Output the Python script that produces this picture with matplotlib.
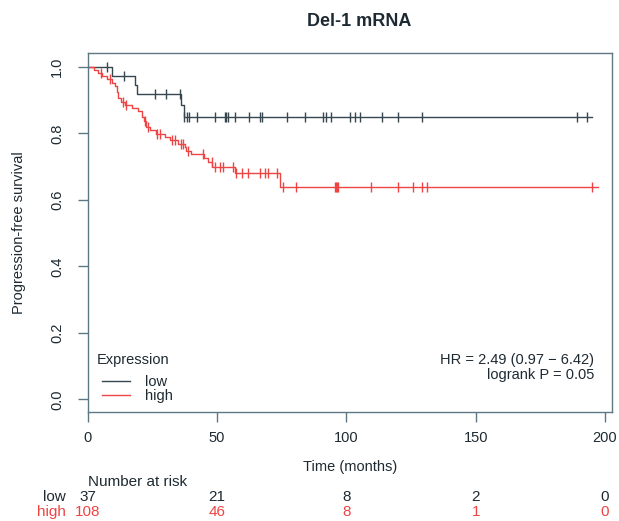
import numpy as np
import matplotlib
matplotlib.use("Agg")
import matplotlib.pyplot as plt
from matplotlib.lines import Line2D
from matplotlib.transforms import blended_transform_factory

plt.rcParams['font.family'] = ['Liberation Sans', 'DejaVu Sans']

# ---------------- data ----------------
title = "Del-1 mRNA"
group_names = ["low", "high"]

low_times = [0, 9.3, 18.2, 19.2, 36.2, 37.1]
low_surv = [1.0, 0.973, 0.946, 0.919, 0.886, 0.850]
low_end = 194.8
low_censor = [7.6, 14.1, 25.9, 30.4, 35.6, 37.3, 38.4, 39.2, 42.3, 49.1, 53.0, 53.6,
              54.3, 56.9, 62.3, 66.5, 67.4, 76.9, 83.9, 90.8, 92.3, 93.9, 101.4,
              103.3, 105.2, 113.6, 120.0, 129.1, 189.0, 192.9]

high_times = [0, 2.5, 4.0, 5.5, 7.5, 9.5, 10.5, 11.2, 11.8, 12.8, 14.5, 17.0, 19.5,
              21.0, 21.8, 22.5, 24.0, 26.5, 30.0, 32.0, 35.0, 37.5, 38.0, 40.0,
              45.0, 46.5, 48.2, 56.9, 74.3]
high_surv = [1.0, 0.991, 0.981, 0.972, 0.963, 0.953, 0.944, 0.925, 0.906, 0.896,
             0.887, 0.877, 0.867, 0.848, 0.838, 0.819, 0.809, 0.799, 0.789, 0.779,
             0.769, 0.758, 0.748, 0.738, 0.726, 0.713, 0.699, 0.680, 0.638]
high_end = 197.4
high_censor = [5.3, 8.5, 13.7, 15.0, 22.0, 23.2, 26.6, 27.9, 32.6, 33.9, 36.2, 36.9,
               38.8, 44.5, 47.9, 49.1, 51.1, 52.4, 56.2, 57.5, 59.5, 62.0, 66.5,
               68.5, 69.7, 73.0, 75.6, 80.6, 95.5, 96.0, 96.4, 96.8, 109.7, 120.0,
               125.8, 129.1, 131.3, 194.8]

risk_times = [0, 50, 100, 150, 200]
risk_low = [37, 21, 8, 2, 0]
risk_high = [108, 46, 8, 1, 0]

hr_text = "HR = 2.49 (0.97 \u2212 6.42)"
p_text = "logrank P = 0.05"

# ---------------- style ----------------
W, H = 619, 521
DPI = 100
col_low = "#37474f"
col_high = "#ee4444"
col_box = "#5d7884"
col_text = "#1e2a32"
fs = 10.5

fig = plt.figure(figsize=(W / DPI, H / DPI), dpi=DPI)
fig.patch.set_facecolor("white")
ax_l, ax_r, ax_t, ax_b = 87.7, 612, 53, 412
ax = fig.add_axes([ax_l / W, 1 - ax_b / H, (ax_r - ax_l) / W, (ax_b - ax_t) / H])


def surv_at(times, surv, t):
    idx = np.searchsorted(np.asarray(times), np.asarray(t), side="right") - 1
    return np.asarray(surv)[idx]


for times, surv, end, cens, col in [
    (low_times, low_surv, low_end, low_censor, col_low),
    (high_times, high_surv, high_end, high_censor, col_high),
]:
    xs = list(times) + [end]
    ys = list(surv) + [surv[-1]]
    ax.step(xs, ys, where="post", color=col, lw=1.0)
    ax.plot(cens, surv_at(times, surv, cens), linestyle="none", marker="|",
            markersize=7, markeredgewidth=1.0, color=col)

ax.set_xlim(0, 202.7)
ax.set_ylim(-0.038, 1.042)
ax.set_xticks(risk_times)
ax.set_yticks([0.0, 0.2, 0.4, 0.6, 0.8, 1.0])
ax.set_yticklabels(["0.0", "0.2", "0.4", "0.6", "0.8", "1.0"], rotation=90,
                   va="center")
ax.tick_params(axis="both", direction="out", length=7, width=1.0,
               color=col_box, labelcolor=col_text, labelsize=fs)
ax.tick_params(axis="y", pad=10)
ax.tick_params(axis="x", pad=7)
for sp in ax.spines.values():
    sp.set_color(col_box)
    sp.set_linewidth(1.0)

ax.set_xlabel("Time (months)", fontsize=fs, color=col_text, labelpad=10.5)
ax.set_ylabel("Progression-free survival", fontsize=fs, color=col_text, labelpad=17)
fig.text(359 / W, 1 - 22 / H, title, fontsize=13, fontweight="bold",
         color=col_text, ha="center", va="center")

# legend
ax.text(97 / W, 1 - 360 / H, "Expression", transform=fig.transFigure,
        fontsize=fs, color=col_text, ha="left", va="center")
handles = [Line2D([], [], color=col_low, lw=1.0), Line2D([], [], color=col_high, lw=1.0)]
leg = ax.legend(handles, group_names, loc="center left",
                bbox_to_anchor=(102 / W, 1 - 389 / H), bbox_transform=fig.transFigure,
                frameon=False, fontsize=fs, handlelength=1.95, handletextpad=1.0,
                borderpad=0, borderaxespad=0, labelspacing=0.05)
for t in leg.get_texts():
    t.set_color(col_text)

ax.text(0.966, 1 - (360 - ax_t) / (ax_b - ax_t), hr_text, transform=ax.transAxes,
        fontsize=fs, color=col_text, ha="right", va="center")
ax.text(0.966, 1 - (375 - ax_t) / (ax_b - ax_t), p_text, transform=ax.transAxes,
        fontsize=fs, color=col_text, ha="right", va="center")

# number at risk table
fs_t = 11
tr = blended_transform_factory(ax.transData, fig.transFigure)
fig.text(88 / W, 1 - 482 / H, "Number at risk", fontsize=fs_t, color=col_text,
         ha="left", va="center")
fig.text(66 / W, 1 - 497 / H, group_names[0], fontsize=fs_t, color=col_text,
         ha="right", va="center")
fig.text(66 / W, 1 - 512 / H, group_names[1], fontsize=fs_t, color=col_high,
         ha="right", va="center")
for t, nl, nh in zip(risk_times, risk_low, risk_high):
    ax.text(t, 1 - 497 / H, str(nl), transform=tr, fontsize=fs_t, color=col_text,
            ha="center", va="center", clip_on=False)
    ax.text(t, 1 - 512 / H, str(nh), transform=tr, fontsize=fs_t, color=col_high,
            ha="center", va="center", clip_on=False)

fig.savefig("out.png", dpi=DPI, facecolor="white")
